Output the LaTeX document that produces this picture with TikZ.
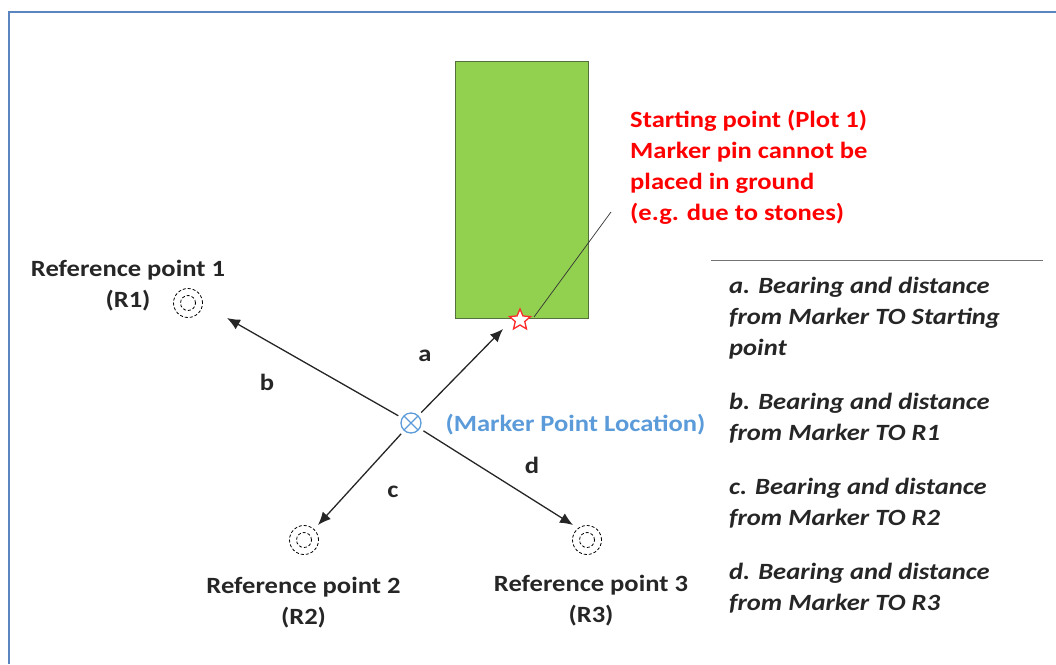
\documentclass[tikz,border=0pt]{standalone}
\usepackage{fontspec}
\setmainfont[FakeStretch=1.14]{Carlito}
\usepackage{tikz}
\usetikzlibrary{shapes.geometric,arrows.meta}
\definecolor{framecol}{HTML}{5B85BE}
\definecolor{plotgreen}{HTML}{92D050}
\definecolor{plotedge}{HTML}{55703A}
\definecolor{markerblue}{HTML}{5B9BD9}
\definecolor{starred}{HTML}{FF2A2A}
\tikzset{
	lab/.style={font=\fontsize{23.3}{31}\selectfont\bfseries,text=black!85,align=center,inner sep=0pt},
	note/.style={font=\fontsize{23.3}{31}\selectfont\bfseries\itshape,text=black!85,align=left,inner sep=0pt,anchor=north west},
	refring/.style={circle,draw,densely dashed,line width=0.8pt,minimum size=#1,inner sep=0pt},
	bearing/.style={-{Latex[length=13pt,width=11pt]},line width=1.3pt,black!85,shorten <=4pt}
}
\begin{document}
\begin{tikzpicture}[x=1pt,y=-1pt]
	\useasboundingbox (0,0) rectangle (1056,664);
	\draw[framecol,line width=2pt] (8.5,664) -- (8.5,11.5) -- (1056,11.5);
	\node[draw=plotedge,fill=plotgreen,line width=1pt,minimum width=133pt,minimum height=257pt,inner sep=0pt] (plot) at (521.5,189.5) {};
	% reference points
	\node[refring=29pt] (R1) at (188,303) {};
	\node[refring=29pt] (R2) at (304,540) {};
	\node[refring=29pt] (R3) at (587,540) {};
	\node[refring=15pt] at (R1) {};
	\node[refring=15pt] at (R2) {};
	\node[refring=15pt] at (R3) {};
	\node[lab] (R1txt) at (128,286) {Reference point 1\\(R1)};
	\node[lab] (R2txt) at (303.5,602.5) {Reference point 2\\(R2)};
	\node[lab] (R3txt) at (591,600.5) {Reference point 3\\(R3)};
	% marker and starting point
	\node[circle,draw=markerblue,line width=1.3pt,minimum size=20pt,inner sep=0pt,path picture={
		\draw[markerblue,line width=1.3pt] (path picture bounding box.north west) -- (path picture bounding box.south east);
		\draw[markerblue,line width=1.3pt] (path picture bounding box.north east) -- (path picture bounding box.south west);
	}] (marker) at (411,423) {};
	\node[star,star points=5,star point ratio=2.2,draw=starred,fill=white,line width=1.3pt,minimum size=22pt,inner sep=0pt] (start) at (520,320) {};
	\node[lab,text=markerblue] (markertxt) at (575.5,425) {(Marker Point Location)};
	\node[lab,text=red,align=left,anchor=north west] (starttxt) at (630,110) {Starting point (Plot 1)\\Marker pin cannot be\\placed in ground\\(e.g. due to stones)};
	\coordinate (leadfoot) at (534,317);
	\coordinate (leadtop) at (611,212);
	\draw[line width=0.7pt,black!80] (leadfoot) -- (leadtop);
	% arrows
	\coordinate (tipa) at (503,329);
	\coordinate (tipb) at (227,318);
	\coordinate (tipc) at (318,525);
	\coordinate (tipd) at (573,525);
	\draw[bearing] (marker) -- (tipa);
	\draw[bearing] (marker) -- (tipb);
	\draw[bearing] (marker) -- (tipc);
	\draw[bearing] (marker) -- (tipd);
	\node[lab] (a) at (425,356) {a};
	\node[lab] (b) at (267,382) {b};
	\node[lab] (c) at (393,492) {c};
	\node[lab] (d) at (532,465) {d};
	% right column
	\coordinate (ruleL) at (711,260);
	\coordinate (ruleR) at (1043,260);
	\draw[black!55,line width=1pt] (ruleL) -- (ruleR);
	\node[note] (notea) at (729,277) {a. Bearing and distance\\from Marker TO Starting\\point};
	\node[note] (noteb) at (729,392.5) {b. Bearing and distance\\from Marker TO R1};
	\node[note] (notec) at (729,477.5) {c. Bearing and distance\\from Marker TO R2};
	\node[note] (noted) at (729,562.5) {d. Bearing and distance\\from Marker TO R3};
\end{tikzpicture}
\end{document}
